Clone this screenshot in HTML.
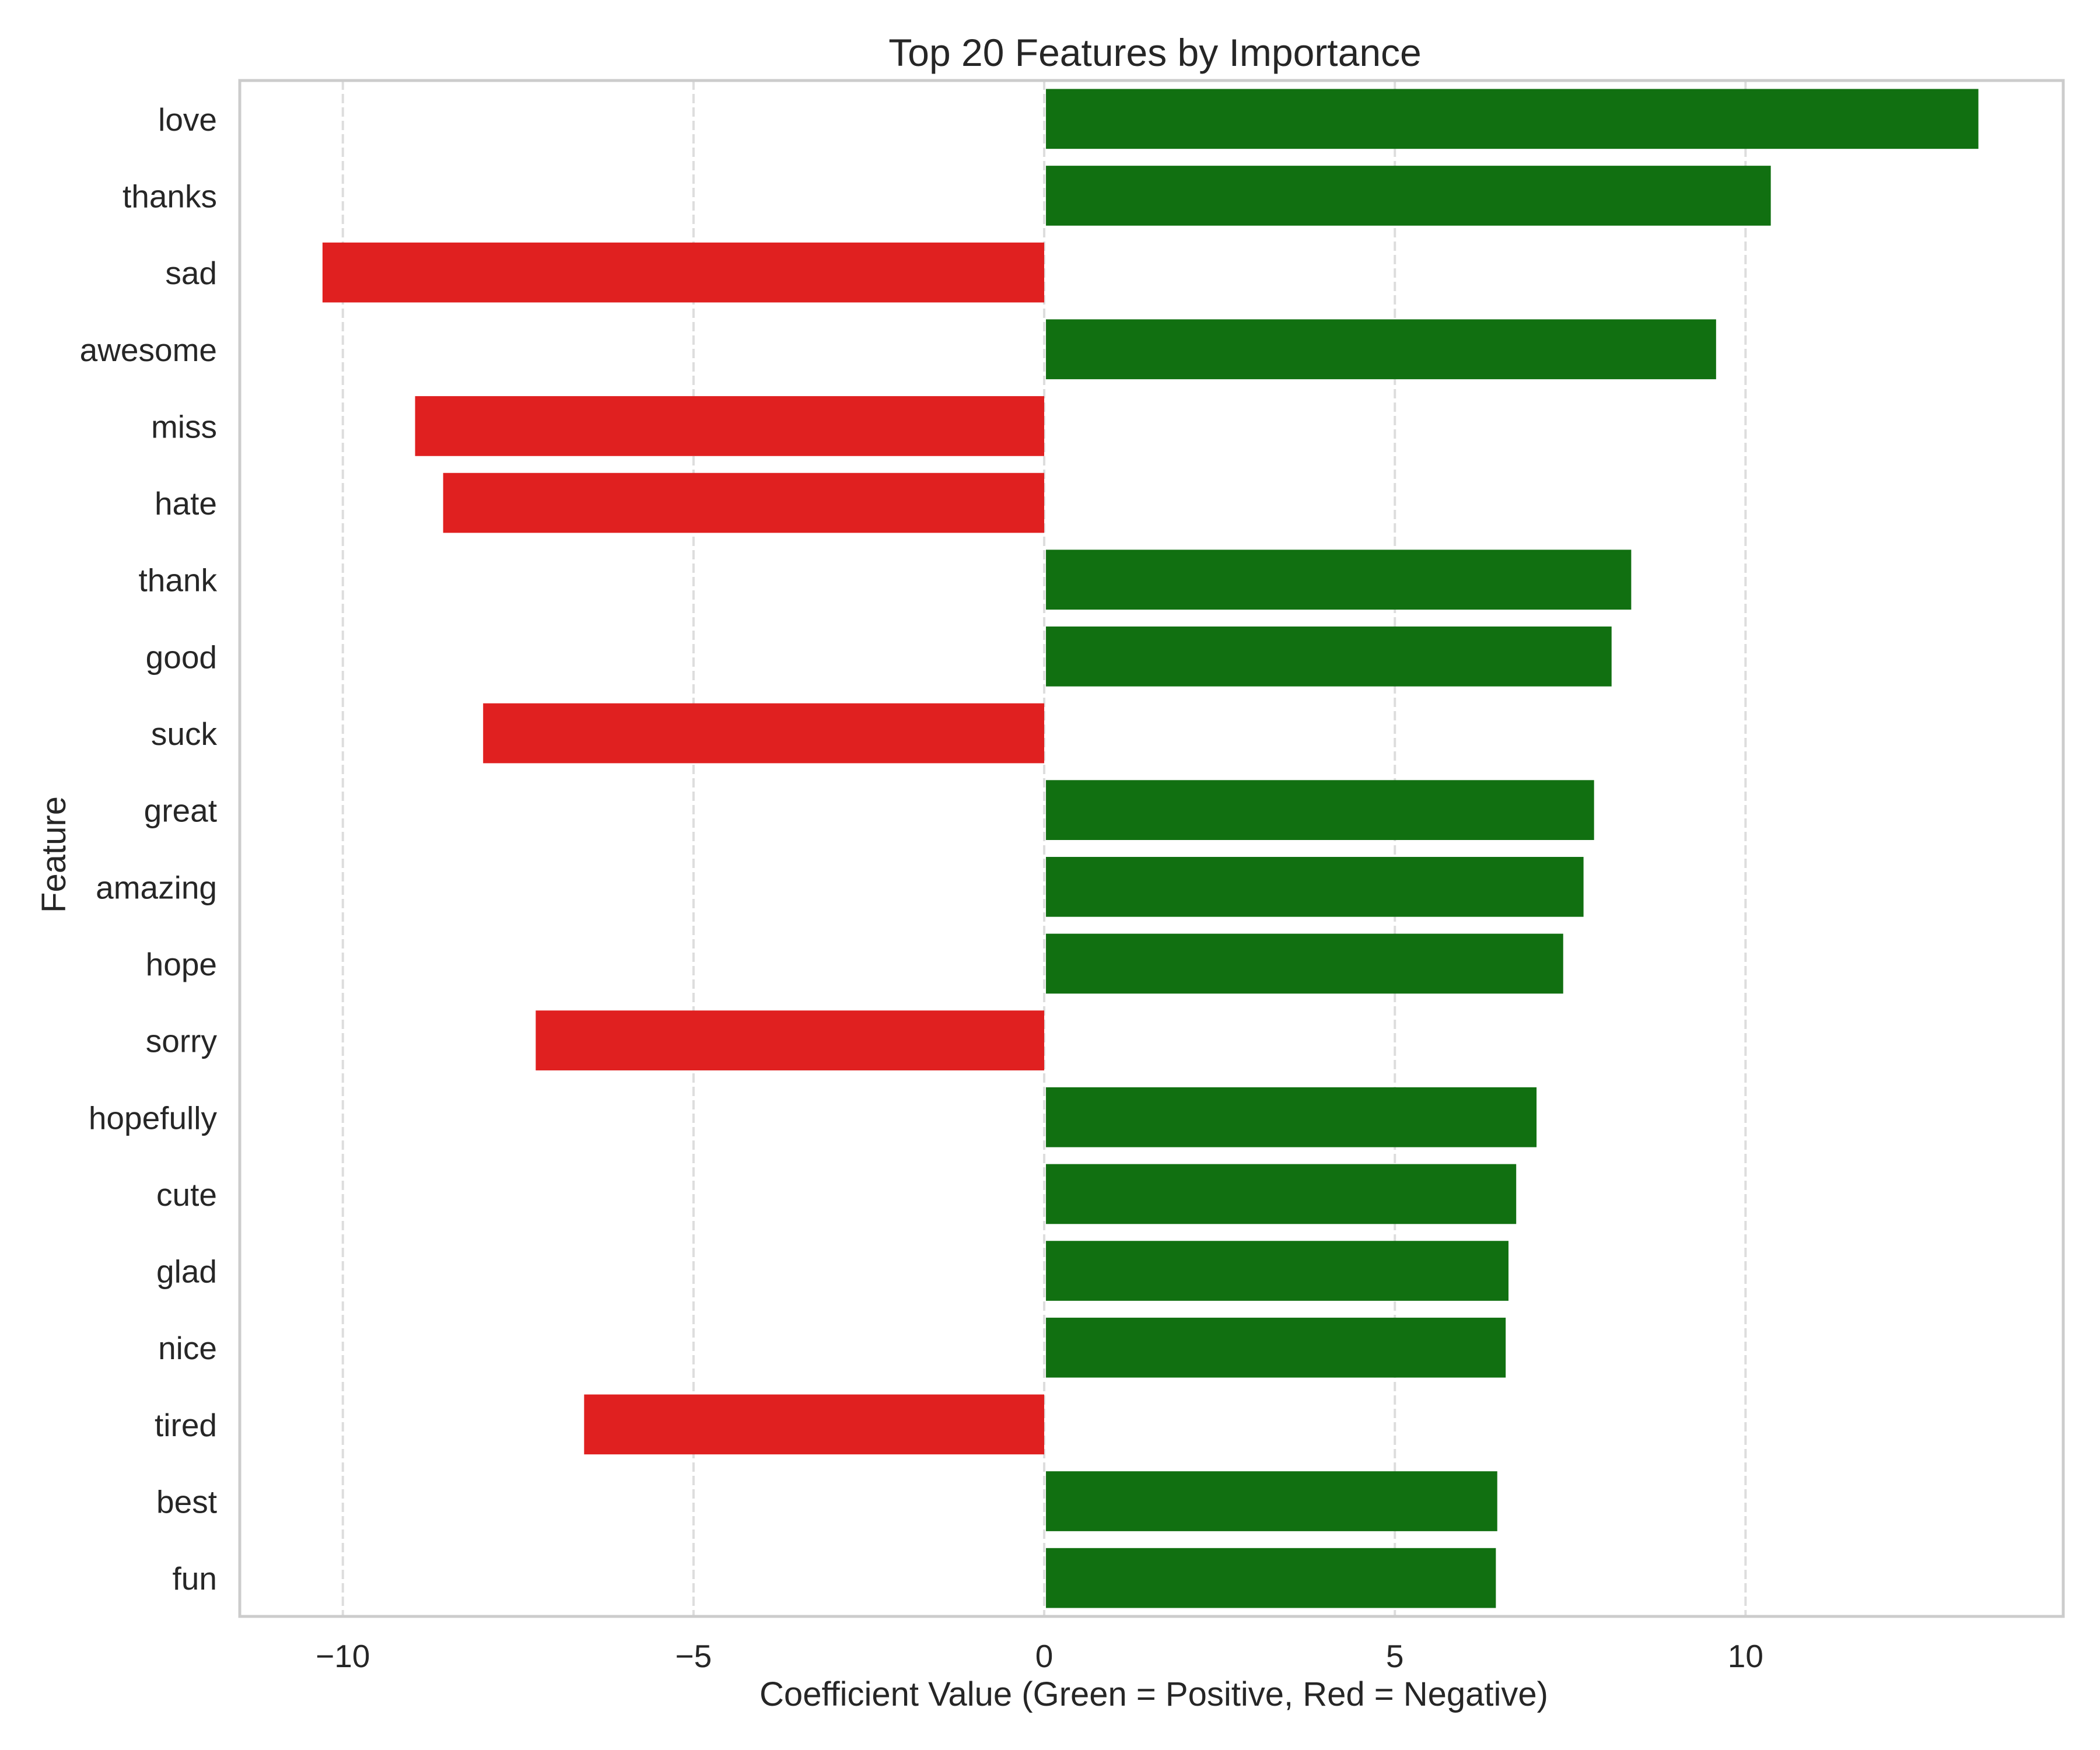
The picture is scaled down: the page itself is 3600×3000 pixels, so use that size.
<!DOCTYPE html>
<html><head><meta charset="utf-8"><style>
html,body{margin:0;padding:0;background:#fff;}
svg{display:block;font-family:"Liberation Sans",Arial,sans-serif;}
</style></head><body>
<svg id="chart" width="3600" height="3000" viewBox="0 0 3600 3000" xmlns="http://www.w3.org/2000/svg">
<rect width="3600" height="3000" fill="#fff"/>
<g id="grid"></g>
<g id="bars"></g>
<rect x="411" y="138" width="3126" height="2633" fill="none" stroke="#cccccc" stroke-width="5"/>
<g id="yticks"></g>
<g id="xticks"></g>
<text x="1980" y="113" font-size="66" text-anchor="middle" fill="#262626">Top 20 Features by Importance</text>
<text x="1978" y="2924" font-size="58" text-anchor="middle" fill="#262626">Coefficient Value (Green = Positive, Red = Negative)</text>
<text transform="translate(112,1465) rotate(-90)" font-size="58" text-anchor="middle" fill="#262626">Feature</text>
</svg>
<script>
const categories = ["love","thanks","sad","awesome","miss","hate","thank","good","suck","great","amazing","hope","sorry","hopefully","cute","glad","nice","tired","best","fun"];
const values = [13.32,10.36,-10.29,9.58,-8.97,-8.57,8.37,8.09,-8.0,7.84,7.69,7.40,-7.25,7.02,6.73,6.62,6.58,-6.56,6.46,6.44];
const xTicks = [-10,-5,0,5,10];
const xTickLabels = ["\u221210","\u22125","0","5","10"];
const X0=411,X1=3537,Y0=138,Y1=2771,XMIN=-11.47,XMAX=14.53;
const NS="http://www.w3.org/2000/svg";
function xs(v){return X0+(v-XMIN)/(XMAX-XMIN)*(X1-X0);}
const band=(Y1-Y0)/categories.length;
function yc(i){return Y0+band*(i+0.5);}
function mk(t,a){const e=document.createElementNS(NS,t);for(const k in a)e.setAttribute(k,a[k]);return e;}
const grid=document.getElementById('grid'),bars=document.getElementById('bars'),yt=document.getElementById('yticks'),xt=document.getElementById('xticks');
xTicks.forEach((t,i)=>{
 const l=mk('line',{x1:xs(t),x2:xs(t),y1:Y0,y2:Y1,stroke:'#dddddd','stroke-width':4,'stroke-dasharray':'16,7'});
 
 
 grid.appendChild(l);
 const tx=mk('text',{x:xs(t),y:2858,'font-size':55,'text-anchor':'middle',fill:'#262626'});
 tx.textContent=xTickLabels[i];
 
 
 xt.appendChild(tx);
});
categories.forEach((c,i)=>{
 const v=values[i];const h=band*0.78;
 const x=Math.min(xs(0),xs(v)),w=Math.abs(xs(v)-xs(0));
 const r=mk('rect',{x:x+(v>=0?3:0),y:yc(i)-h/2,width:w-(v>=0?3:0),height:h,fill:v>=0?'#117011':'#e02020'});
 
 
 bars.appendChild(r);
 const tx=mk('text',{x:372,y:yc(i)+20,'font-size':55,'text-anchor':'end',fill:'#262626'});
 tx.textContent=c;
 
 
 yt.appendChild(tx);
});
</script>
</body></html>
